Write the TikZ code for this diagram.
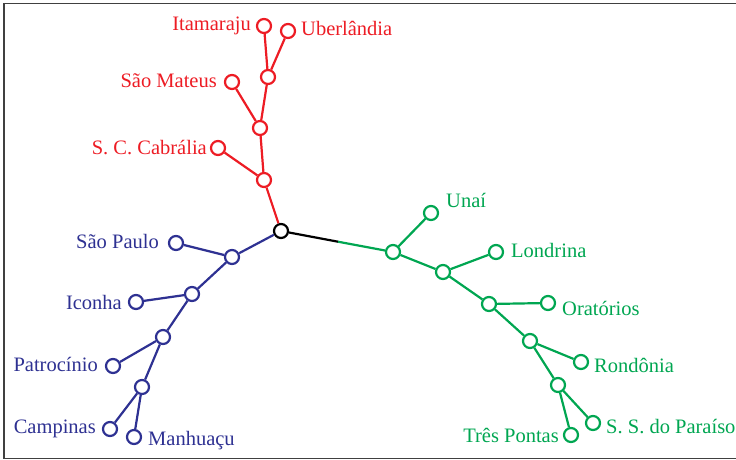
\documentclass[tikz,border=0pt]{standalone}
\usepackage{fontspec}
\setmainfont{Liberation Serif}
\definecolor{cred}{RGB}{237,28,36}
\definecolor{cblue}{RGB}{46,49,146}
\definecolor{cgreen}{RGB}{0,166,81}
\definecolor{cframe}{RGB}{64,64,64}
\begin{document}
\begin{tikzpicture}[x=1pt,y=-1pt,
  vtx/.style={circle,draw,fill=white,line width=2.2pt,minimum size=14pt,inner sep=0pt},
  edge/.style={line width=2.2pt},
  lbl/.style={font=\fontsize{20.5}{22}\selectfont,inner sep=0pt},
  lblL/.style={lbl,anchor=base east},
  lblR/.style={lbl,anchor=base west}]
\useasboundingbox (0,0) rectangle (736,460);
\draw[cframe,line width=1.5pt] (740,3.5) -- (4,3.5) -- (4,458.5) -- (740,458.5);
% nodes
\node[vtx,draw=black] (root) at (281,231) {};
% red
\node[vtx,draw=cred] (r3) at (264,180) {};
\node[vtx,draw=cred] (r2) at (260,128) {};
\node[vtx,draw=cred] (r1) at (268,77) {};
\node[vtx,draw=cred] (ita) at (264,26) {};
\node[vtx,draw=cred] (ube) at (288,31) {};
\node[vtx,draw=cred] (sma) at (232,82) {};
\node[vtx,draw=cred] (scc) at (218,148) {};
% blue
\node[vtx,draw=cblue] (b1) at (232,257) {};
\node[vtx,draw=cblue] (b2) at (192,294) {};
\node[vtx,draw=cblue] (b3) at (163,337) {};
\node[vtx,draw=cblue] (b4) at (142,387) {};
\node[vtx,draw=cblue] (spa) at (176,243) {};
\node[vtx,draw=cblue] (ico) at (136,302) {};
\node[vtx,draw=cblue] (pat) at (113,366) {};
\node[vtx,draw=cblue] (cam) at (110,429) {};
\node[vtx,draw=cblue] (man) at (134,437) {};
% green
\node[vtx,draw=cgreen] (g1) at (393,252) {};
\node[vtx,draw=cgreen] (g2) at (443,272) {};
\node[vtx,draw=cgreen] (g3) at (489,304) {};
\node[vtx,draw=cgreen] (g4) at (530,341) {};
\node[vtx,draw=cgreen] (g5) at (558,385) {};
\node[vtx,draw=cgreen] (una) at (431,213) {};
\node[vtx,draw=cgreen] (lon) at (496,252) {};
\node[vtx,draw=cgreen] (ora) at (548,303) {};
\node[vtx,draw=cgreen] (ron) at (581,362) {};
\node[vtx,draw=cgreen] (ssp) at (593,423) {};
\node[vtx,draw=cgreen] (tre) at (571,435) {};
\coordinate (mid) at (338,241.7);
% edges
\draw[edge,black] (root) -- (mid);
\draw[edge,cgreen] (mid) -- (g1);
\draw[edge,cred] (root) -- (r3) (r3) -- (r2) (r2) -- (r1) (r1) -- (ita) (r1) -- (ube) (r2) -- (sma) (r3) -- (scc);
\draw[edge,cblue] (root) -- (b1) (b1) -- (b2) (b2) -- (b3) (b3) -- (b4) (b1) -- (spa) (b2) -- (ico) (b3) -- (pat) (b4) -- (cam) (b4) -- (man);
\draw[edge,cgreen] (g1) -- (g2) (g2) -- (g3) (g3) -- (g4) (g4) -- (g5) (g1) -- (una) (g2) -- (lon) (g3) -- (ora) (g4) -- (ron) (g5) -- (ssp) (g5) -- (tre);
% labels
\begin{scope}[cred]
\node[lblL] (tita) at (251,31) {Itamaraju};
\node[lblR] (tube) at (301,36) {Uberlândia};
\node[lblL] (tsma) at (217,88) {São Mateus};
\node[lblL] (tscc) at (207,154) {S. C. Cabrália};
\end{scope}
\begin{scope}[cblue]
\node[lblL] (tspa) at (159,248) {São Paulo};
\node[lblL] (tico) at (122,309) {Iconha};
\node[lblL] (tpat) at (98,371) {Patrocínio};
\node[lblL] (tcam) at (96,433) {Campinas};
\node[lblR] (tman) at (148,445) {Manhuaçu};
\end{scope}
\begin{scope}[cgreen]
\node[lblR] (tuna) at (446,207) {Unaí};
\node[lblR] (tlon) at (511,257) {Londrina};
\node[lblR] (tora) at (562,315) {Oratórios};
\node[lblR] (tron) at (594,372) {Rondônia};
\node[lblR] (tssp) at (606,433) {S. S. do Paraíso};
\node[lblL] (ttre) at (559,442) {Três Pontas};
\end{scope}
\end{tikzpicture}
\end{document}
